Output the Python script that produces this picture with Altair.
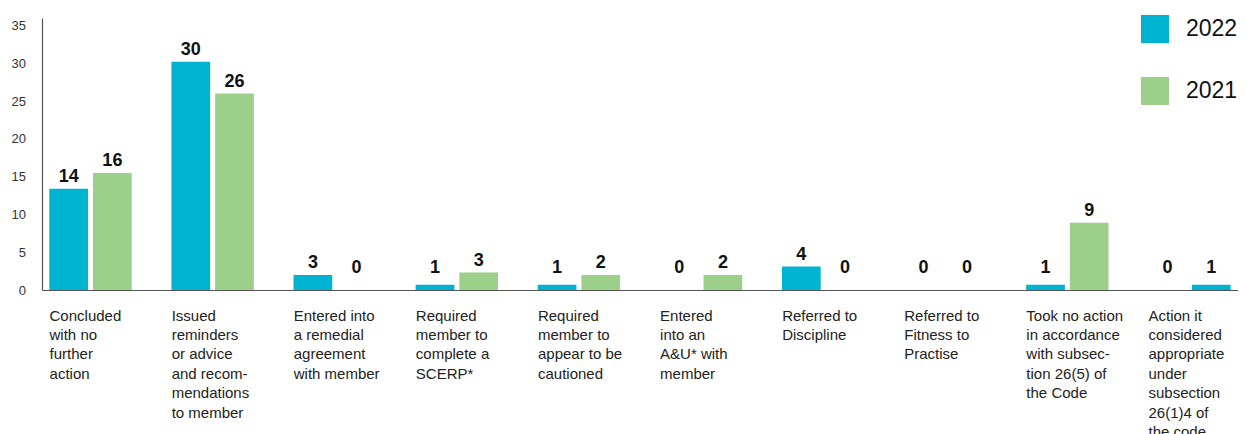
import altair as alt
import pandas as pd

categories = [
    "Concluded\nwith no\nfurther\naction",
    "Issued\nreminders\nor advice\nand recom-\nmendations\nto member",
    "Entered into\na remedial\nagreement\nwith member",
    "Required\nmember to\ncomplete a\nSCERP*",
    "Required\nmember to\nappear to be\ncautioned",
    "Entered\ninto an\nA&U* with\nmember",
    "Referred to\nDiscipline",
    "Referred to\nFitness to\nPractise",
    "Took no action\nin accordance\nwith subsec-\ntion 26(5) of\nthe Code",
    "Action it\nconsidered\nappropriate\nunder\nsubsection\n26(1)4 of\nthe code",
]
series = ["2022", "2021"]
labels_2022 = [14, 30, 3, 1, 1, 0, 4, 0, 1, 0]
labels_2021 = [16, 26, 0, 3, 2, 2, 0, 0, 9, 1]
bars_2022 = [13.4, 30.2, 2.0, 0.7, 0.7, 0, 3.1, 0, 0.7, 0]
bars_2021 = [15.5, 26.0, 0, 2.3, 2.0, 2.0, 0, 0, 8.9, 0.7]
y_ticks = [0, 5, 10, 15, 20, 25, 30, 35]

TEAL = "#00B4D1"
GREEN = "#9CD08A"

rows = []
for i, c in enumerate(categories):
    rows.append({"category": c, "idx": i, "series": "2022", "bar": bars_2022[i], "label": labels_2022[i]})
    rows.append({"category": c, "idx": i, "series": "2021", "bar": bars_2021[i], "label": labels_2021[i]})
df = pd.DataFrame(rows)

x_axis = alt.Axis(
    title=None,
    labelExpr="split(datum.label, '\\n')",
    labelAlign="left",
    labelBaseline="top",
    labelAngle=0,
    labelOffset=-41,
    labelPadding=18,
    labelFontSize=15,
    labelLineHeight=19.4,
    labelColor="#222222",
    labelLimit=300,
    labelOverlap=False,
    labelBound=False,
    labelFlush=False,
    ticks=False,
    tickSize=0,
    domainColor="#555555",
    domainWidth=1.2,
)
y_axis = alt.Axis(
    title=None,
    values=y_ticks,
    grid=False,
    ticks=False,
    tickSize=0,
    labelOverlap=False,
    labelPadding=16.5,
    labelFontSize=13,
    labelColor="#333333",
    domainColor="#555555",
    domainWidth=1.2,
)
x_scale = alt.Scale(paddingInner=0.325, paddingOuter=0.06)
xo_enc = alt.XOffset("series:N", sort=series, scale=alt.Scale(paddingInner=0.114, paddingOuter=0))
y_scale = alt.Scale(domain=[0, 36], nice=False)

bars = alt.Chart(df).mark_bar().encode(
    x=alt.X("category:N", sort=categories, scale=x_scale, axis=x_axis),
    xOffset=xo_enc,
    y=alt.Y("bar:Q", scale=y_scale, axis=y_axis),
    color=alt.condition(
        "datum.idx === 9 && datum.series === '2021'",
        alt.value(TEAL),
        alt.Color(
            "series:N",
            sort=series,
            scale=alt.Scale(domain=series, range=[TEAL, GREEN]),
            legend=alt.Legend(
                title=None,
                orient="none",
                legendX=1099,
                legendY=-3,
                symbolType="square",
                symbolSize=784,
                symbolStrokeWidth=0,
                labelFontSize=23,
                labelOffset=17,
                labelColor="#111111",
                rowPadding=34,
                padding=0,
            ),
        ),
    ),
)

text = alt.Chart(df).transform_calculate(
    ly="max(datum.bar, 1.3)"
).mark_text(
    fontSize=18, fontWeight="bold", color="#111111", dy=-7, baseline="alphabetic", align="center"
).encode(
    x=alt.X("category:N", sort=categories, scale=x_scale, axis=x_axis),
    xOffset=xo_enc,
    y=alt.Y("ly:Q", scale=y_scale, axis=y_axis),
    text=alt.Text("label:Q"),
)

chart = alt.layer(bars, text).properties(
    width=1196,
    height=272,
    autosize=alt.AutoSizeParams(type="none"),
    padding={"left": 34, "top": 10, "right": 0, "bottom": 144},
).configure(
    font="Liberation Sans",
).configure_view(stroke=None)

chart.save("out.html", embed_options={"renderer": "svg", "actions": False})
